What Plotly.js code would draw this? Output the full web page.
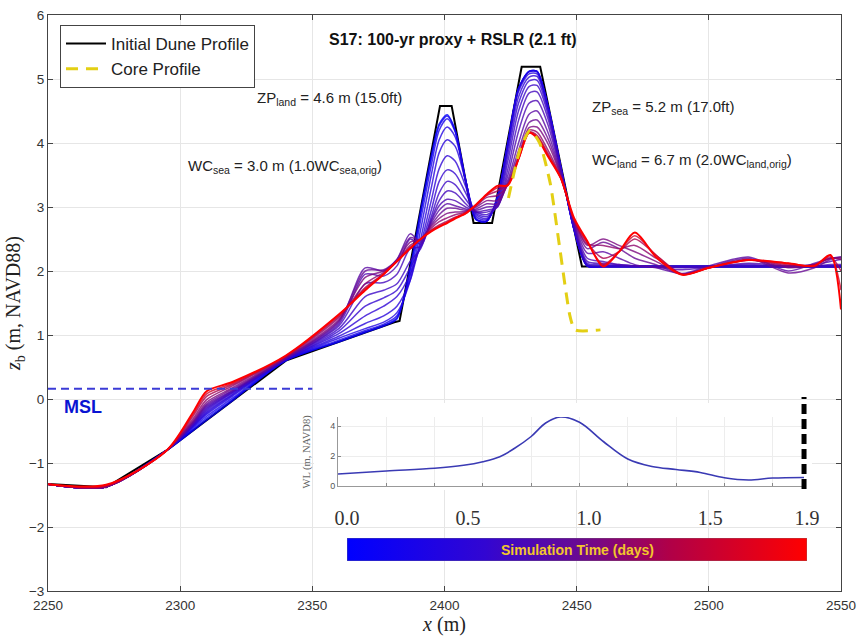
<!DOCTYPE html>
<html><head><meta charset="utf-8">
<script src="https://cdn.plot.ly/plotly-3.0.1.min.js"></script>
<style>html,body{margin:0;padding:0;background:#fff}#chart{width:857px;height:636px}</style>
</head><body><div id="chart"></div>
<script>
// ---------------- data ----------------
const initialX = [2250,2272,2295,2340,2381,2383,2398.3,2402.7,2411,2418,2429.2,2436.2,2452,2550];
const initialZ = [-1.33,-1.38,-0.8,0.6,1.2,1.22,4.58,4.58,2.75,2.75,5.19,5.19,2.07,2.07];

const coreX = [2424.2,2428.6,2432.4,2436,2440,2443.7,2447.5,2449.4,2459];
const coreZ = [3.14,3.9,4.2,4.0,3.37,2.33,1.29,1.08,1.08];

const mslX = [2250,2350];
const mslZ = [0.16,0.16];

const profileX = [2250,2272,2295,2305,2310,2320,2340,2360,2370,2377,2382,2387,2391,2395,2398,2401,2404,2408,2412,2416,
                  2420,2424,2428,2432,2435,2439,2444,2449,2454,2460,2466,2472,2480,2490,2500,2515,2530,2540,2546,2550];
const profileTimes = [0.05,0.15,0.25,0.35,0.45,0.52,0.58,0.64,0.7,0.76,0.85,0.95,1.05,1.15,1.3,1.55,1.9];
const profileZ = [
 [-1.33,-1.37,-0.8,-0.49,-0.33,-0.02,0.6,0.89,1.04,1.14,1.25,2.05,2.95,3.8,4.3,4.44,4.2,3.4,2.8,2.78,3.15,4.0,4.85,5.12,5.12,4.6,3.62,2.65,2.08,2.07,2.07,2.07,2.07,2.07,2.07,2.07,2.07,2.07,2.07,2.07],
 [-1.33,-1.37,-0.8,-0.47,-0.30,0.0,0.6,0.9,1.05,1.15,1.27,2.0,2.9,3.75,4.27,4.42,4.2,3.42,2.8,2.78,3.15,4.0,4.85,5.12,5.12,4.6,3.62,2.65,2.08,2.07,2.07,2.07,2.07,2.07,2.07,2.07,2.07,2.07,2.07,2.07],
 [-1.33,-1.37,-0.8,-0.45,-0.27,0.02,0.61,0.92,1.07,1.17,1.3,1.92,2.8,3.65,4.2,4.38,4.18,3.42,2.8,2.78,3.15,4.0,4.85,5.12,5.12,4.6,3.62,2.65,2.08,2.07,2.07,2.07,2.07,2.07,2.07,2.07,2.07,2.07,2.07,2.07],
 [-1.33,-1.37,-0.8,-0.43,-0.24,0.05,0.61,0.95,1.1,1.2,1.35,1.85,2.65,3.5,4.05,4.25,4.1,3.42,2.82,2.78,3.15,4.0,4.84,5.11,5.11,4.6,3.62,2.65,2.08,2.07,2.07,2.07,2.07,2.07,2.07,2.07,2.07,2.07,2.07,2.07],
 [-1.33,-1.37,-0.8,-0.42,-0.22,0.07,0.62,0.98,1.18,1.3,1.45,1.85,2.5,3.3,3.85,4.05,3.95,3.4,2.85,2.8,3.12,3.97,4.8,5.08,5.08,4.58,3.62,2.66,2.08,2.07,2.07,2.07,2.07,2.07,2.07,2.07,2.07,2.07,2.07,2.07],
 [-1.33,-1.37,-0.8,-0.41,-0.2,0.08,0.62,1.02,1.3,1.45,1.6,1.95,2.42,3.1,3.6,3.8,3.72,3.32,2.88,2.82,3.08,3.9,4.72,5.03,5.04,4.56,3.62,2.67,2.09,2.07,2.07,2.07,2.07,2.07,2.07,2.07,2.07,2.07,2.07,2.07],
 [-1.33,-1.37,-0.8,-0.4,-0.18,0.1,0.62,1.06,1.45,1.58,1.7,2.05,2.38,2.95,3.4,3.58,3.52,3.22,2.9,2.85,3.05,3.82,4.62,4.97,4.98,4.52,3.6,2.68,2.1,2.08,2.07,2.07,2.07,2.07,2.07,2.07,2.07,2.07,2.07,2.07],
 [-1.33,-1.37,-0.8,-0.39,-0.16,0.11,0.63,1.1,1.6,1.7,1.8,2.15,2.35,2.85,3.22,3.4,3.35,3.12,2.92,2.88,3.02,3.72,4.5,4.88,4.9,4.47,3.58,2.7,2.12,2.1,2.08,2.07,2.07,2.07,2.07,2.07,2.07,2.07,2.07,2.07],
 [-1.33,-1.37,-0.8,-0.38,-0.14,0.12,0.63,1.14,1.8,1.82,1.95,2.35,2.38,2.8,3.1,3.25,3.22,3.05,2.92,2.92,3.0,3.6,4.35,4.78,4.8,4.4,3.56,2.72,2.15,2.12,2.1,2.08,2.07,2.05,2.07,2.1,2.07,2.08,2.1,2.1],
 [-1.33,-1.37,-0.8,-0.37,-0.12,0.13,0.63,1.17,1.95,1.92,2.08,2.5,2.42,2.78,3.02,3.12,3.1,3.0,2.93,2.95,3.0,3.5,4.18,4.62,4.66,4.3,3.54,2.74,2.2,2.15,2.1,2.08,2.06,2.02,2.06,2.12,2.08,2.1,2.15,2.18],
 [-1.33,-1.37,-0.8,-0.36,-0.1,0.14,0.64,1.2,2.05,2.0,2.18,2.58,2.45,2.75,2.95,3.05,3.02,2.97,2.95,3.0,3.02,3.42,4.0,4.45,4.5,4.18,3.52,2.76,2.28,2.3,2.2,2.1,2.05,1.96,2.08,2.22,2.0,2.12,2.2,2.22],
 [-1.33,-1.37,-0.8,-0.35,-0.08,0.16,0.64,1.22,2.0,2.02,2.18,2.52,2.48,2.72,2.88,2.98,2.98,2.95,2.97,3.05,3.05,3.38,3.88,4.32,4.36,4.08,3.5,2.78,2.35,2.45,2.35,2.2,2.1,1.95,2.06,2.2,1.97,2.05,2.18,2.22],
 [-1.33,-1.37,-0.8,-0.33,-0.05,0.18,0.65,1.24,1.9,2.0,2.16,2.45,2.5,2.7,2.82,2.9,2.92,2.93,3.0,3.1,3.1,3.36,3.8,4.24,4.25,4.0,3.48,2.8,2.4,2.5,2.4,2.3,2.15,1.95,2.05,2.18,2.05,2.1,2.2,2.2],
 [-1.33,-1.37,-0.8,-0.3,-0.01,0.21,0.66,1.27,1.8,1.98,2.15,2.4,2.5,2.67,2.77,2.83,2.88,2.92,3.02,3.15,3.18,3.35,3.76,4.2,4.17,3.9,3.46,2.8,2.42,2.4,2.35,2.4,2.2,1.95,2.05,2.17,2.08,2.1,2.2,2.18],
 [-1.33,-1.36,-0.8,-0.26,0.04,0.23,0.67,1.29,1.74,1.96,2.15,2.37,2.5,2.64,2.72,2.78,2.84,2.91,3.03,3.18,3.25,3.35,3.75,4.17,4.12,3.85,3.45,2.8,2.44,2.2,2.3,2.5,2.25,1.95,2.05,2.17,2.1,2.09,2.22,2.0],
 [-1.33,-1.35,-0.8,-0.23,0.08,0.25,0.67,1.31,1.72,1.95,2.15,2.36,2.5,2.63,2.7,2.76,2.83,2.9,3.04,3.19,3.3,3.35,3.75,4.16,4.1,3.82,3.45,2.8,2.45,2.1,2.3,2.55,2.25,1.94,2.05,2.17,2.12,2.08,2.24,1.7],
 [-1.33,-1.34,-0.8,-0.2,0.12,0.27,0.68,1.32,1.7,1.95,2.15,2.35,2.5,2.62,2.69,2.75,2.82,2.9,3.04,3.2,3.33,3.34,3.75,4.16,4.08,3.8,3.45,2.83,2.47,2.07,2.3,2.6,2.22,1.94,2.05,2.17,2.12,2.08,2.25,1.4]
];

const wlTime  = [0,0.2,0.4,0.52,0.6,0.67,0.73,0.8,0.86,0.92,1.0,1.1,1.2,1.3,1.4,1.5,1.6,1.7,1.8,1.93];
const wlLevel = [0.8,1.0,1.18,1.38,1.62,1.95,2.5,3.3,4.2,4.6,4.25,2.95,1.8,1.3,1.1,0.9,0.55,0.4,0.53,0.57];

const simEnd = 1.9;
const cbTickVals = [0,0.5,1.0,1.5,1.9];
const cbTickText = ['0.0','0.5','1.0','1.5','1.9'];
const xTicks = [2250,2300,2350,2400,2450,2500,2550];
const yTicks = [-3,-2,-1,0,1,2,3,4,5,6];

// ---------------- styling helpers ----------------
const cmapStops = [[0,[0,0,255]],[0.3,[50,6,210]],[0.5,[104,10,148]],[0.7,[176,0,72]],[1,[255,0,0]]];
function colorAt(f){
  f = Math.max(0, Math.min(1, f));
  for (let i=1;i<cmapStops.length;i++){
    if (f <= cmapStops[i][0]){
      const a=cmapStops[i-1], b=cmapStops[i];
      const u=(f-a[0])/(b[0]-a[0]);
      const c=a[1].map((v,k)=>Math.round(v+(b[1][k]-v)*u));
      return 'rgb('+c.join(',')+')';
    }
  }
  return 'rgb(255,0,0)';
}
const cbScale = cmapStops.map(s=>[s[0],'rgb('+s[1].join(',')+')']);

const L=48, R=841, T=15, B=591;
const pxX = p => (p-L)/(R-L);
const pxY = p => (B-p)/(B-T);

const SANS = 'Liberation Sans, Arial, sans-serif';
const SERIF = 'Liberation Serif, Times New Roman, serif';

// ---------------- traces ----------------
const traces = [];
traces.push({x:initialX, y:initialZ, mode:'lines', name:'Initial Dune Profile',
  line:{color:'#000', width:2}, hoverinfo:'skip'});
profileZ.forEach((z,i)=>{
  const last = i===profileZ.length-1;
  traces.push({x:profileX, y:z, mode:'lines', showlegend:false, hoverinfo:'skip',
    opacity: last?1:0.8,
    line:{color:colorAt(profileTimes[i]/simEnd), width: last?2:1.5, shape:'spline', smoothing:0.8}});
});
traces.push({x:coreX, y:coreZ, mode:'lines', name:'Core Profile',
  line:{color:'#e3cf14', width:3, dash:'12px,8px', shape:'spline', smoothing:0.6}, hoverinfo:'skip'});
traces.push({x:mslX, y:mslZ, mode:'lines', showlegend:false, hoverinfo:'skip',
  line:{color:'#3b3bd6', width:2, dash:'8px,5px'}});

// inset background holder
traces.push({x:[0.5], y:[0.5], xaxis:'x2', yaxis:'y2', mode:'markers', marker:{opacity:0, size:1},
  showlegend:false, hoverinfo:'skip'});
// water level inset
traces.push({x:wlTime, y:wlLevel, xaxis:'x3', yaxis:'y3', mode:'lines', showlegend:false, hoverinfo:'skip',
  line:{color:'#3a3ab4', width:1.6, shape:'spline'}});
// colour bar
traces.push({x:[0,simEnd,simEnd,0,0], y:[0,0,1,1,0], xaxis:'x4', yaxis:'y4', mode:'lines', fill:'toself',
  fillgradient:{type:'horizontal', colorscale:cbScale}, line:{width:0.6, color:'#777'},
  showlegend:false, hoverinfo:'skip'});

// ---------------- layout ----------------
const insetXRange = [0, 1.934];
const insetXDom = [pxX(338), pxX(805)];
const insetYDom = [pxY(486), pxY(417)];
const tNow = wlTime[wlTime.length-1];
const tNowPaper = insetXDom[0] + (tNow-insetXRange[0])/(insetXRange[1]-insetXRange[0])*(insetXDom[1]-insetXDom[0]);

const axCommon = {ticks:'inside', ticklen:5, tickcolor:'#444', showline:true, linecolor:'#444', linewidth:1,
  mirror:'ticks', showgrid:true, gridcolor:'#e6e6e6', zeroline:false,
  tickfont:{family:SANS, size:13.5, color:'#333'}};

const layout = {
  width:857, height:636,
  margin:{l:L, r:857-R, t:T, b:636-B},
  paper_bgcolor:'#fff', plot_bgcolor:'#fff',
  showlegend:true,
  legend:{x:pxX(60), y:pxY(25), xanchor:'left', yanchor:'top', bgcolor:'#fff',
    bordercolor:'#444', borderwidth:1, font:{family:SANS, size:17, color:'#222'},
    tracegroupgap:0, itemwidth:40},
  xaxis:Object.assign({}, axCommon, {range:[2250,2550], tickvals:xTicks, anchor:'y', domain:[0,1],
    ticklabelstandoff:2,
    title:{text:'<i>x</i> (m)', font:{family:SERIF, size:20, color:'#222'}, standoff:4}}),
  yaxis:Object.assign({}, axCommon, {range:[-3,6], tickvals:yTicks, anchor:'x', domain:[0,1],
    title:{text:'<i>z</i><sub>b</sub> (m, NAVD88)', font:{family:SERIF, size:20, color:'#222'}, standoff:2}}),
  xaxis2:{domain:[pxX(314), pxX(812)], anchor:'y2', range:[0,1], visible:false, fixedrange:true},
  yaxis2:{domain:[pxY(490), pxY(403)], anchor:'x2', range:[0,1], visible:false, fixedrange:true},
  xaxis3:{domain:insetXDom, anchor:'y3', range:insetXRange, tick0:0, dtick:0.2, showticklabels:false,
    ticks:'inside', ticklen:3, tickcolor:'#888', showline:true, linecolor:'#999', showgrid:true,
    gridcolor:'#ededed', zeroline:false},
  yaxis3:{domain:insetYDom, anchor:'x3', range:[0,4.6], tickvals:[0,2,4],
    ticks:'inside', ticklen:3, tickcolor:'#888', showline:true, linecolor:'#999', showgrid:true,
    gridcolor:'#ededed', zeroline:false, tickfont:{family:SANS, size:9, color:'#555'}},
  xaxis4:{domain:[pxX(347), pxX(807)], anchor:'y4', range:[0,simEnd], side:'top',
    tickvals:cbTickVals, ticktext:cbTickText, ticks:'', showline:false, showgrid:false, zeroline:false,
    tickfont:{family:SERIF, size:20, color:'#333'}, ticklabelstandoff:8},
  yaxis4:{domain:[pxY(561), pxY(538)], anchor:'x4', range:[0,1], visible:false},
  shapes:[
    {type:'line', xref:'paper', yref:'paper', x0:tNowPaper, x1:tNowPaper, y0:pxY(489), y1:pxY(397),
      line:{color:'#000', width:5, dash:'10px,5px'}}
  ],
  annotations:[
    {x:2403.2, y:5.61, xref:'x', yref:'y', text:'<b>S17: 100-yr proxy + RSLR (2.1 ft)</b>', showarrow:false,
      font:{family:SANS, size:16, color:'#111'}},
    {x:2328.3, y:4.70, xref:'x', yref:'y', xanchor:'left', text:'ZP<sub>land</sub> = 4.6 m (15.0ft)', showarrow:false,
      font:{family:SANS, size:15, color:'#222'}},
    {x:2302.2, y:3.64, xref:'x', yref:'y', xanchor:'left', text:'WC<sub>sea</sub> = 3.0 m (1.0WC<sub>sea,orig</sub>)', showarrow:false,
      font:{family:SANS, size:15, color:'#222'}},
    {x:2455.1, y:4.55, xref:'x', yref:'y', xanchor:'left', text:'ZP<sub>sea</sub> = 5.2 m (17.0ft)', showarrow:false,
      font:{family:SANS, size:15, color:'#222'}},
    {x:2455.1, y:3.73, xref:'x', yref:'y', xanchor:'left', text:'WC<sub>land</sub> = 6.7 m (2.0WC<sub>land,orig</sub>)', showarrow:false,
      font:{family:SANS, size:15, color:'#222'}},
    {x:2255.3, y:-0.125, xref:'x', yref:'y', xanchor:'left', text:'<b>MSL</b>', showarrow:false,
      font:{family:SANS, size:18, color:'#0a14d2'}},
    {x:pxX(306), y:(insetYDom[0]+insetYDom[1])/2, xref:'paper', yref:'paper', textangle:-90,
      xanchor:'center', yanchor:'middle',
      text:'WL (m, NAVD8)', showarrow:false, font:{family:SERIF, size:10.5, color:'#666'}},
    {x:simEnd/2, y:0.5, xref:'x4', yref:'y4', text:'<b>Simulation Time (days)</b>', showarrow:false,
      font:{family:SANS, size:14, color:'#f2c62c'}}
  ]
};

Plotly.newPlot('chart', traces, layout, {staticPlot:true, displayModeBar:false});
</script></body></html>
